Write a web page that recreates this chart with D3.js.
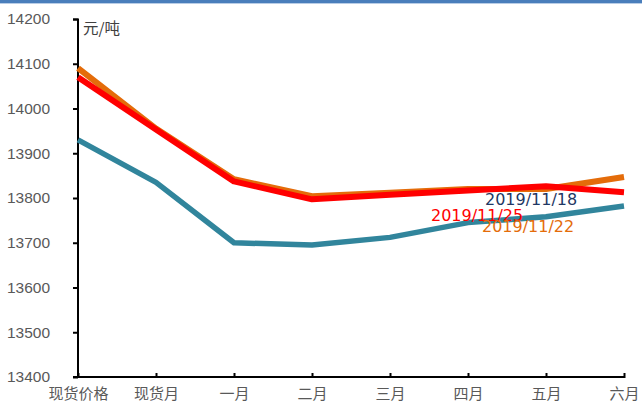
<!DOCTYPE html>
<html><head><meta charset="utf-8">
<script src="https://cdn.jsdelivr.net/npm/d3@7"></script>
<style>body{margin:0;background:#fff}svg{display:block}</style>
</head><body>
<svg id="c" width="642" height="403"></svg>
<script>
const categories = ["现货价格","现货月","一月","二月","三月","四月","五月","六月"];
const s1118 = [13930, 13835, 13700, 13695, 13712, 13745, 13758, 13782];
const s1122 = [14090, 13955, 13842, 13804, 13812, 13820, 13820, 13847];
const s1125 = [14070, 13953, 13837, 13797, 13807, 13817, 13826, 13813];
const yTicks = [13400,13500,13600,13700,13800,13900,14000,14100,14200];
const seriesNames = ["2019/11/18","2019/11/22","2019/11/25"];

const svg = d3.select("#c");
svg.append("rect").attr("x",0).attr("y",0).attr("width",642).attr("height",3).attr("fill","#4a7ebb");
svg.append("rect").attr("x",0).attr("y",3).attr("width",642).attr("height",1).attr("fill","#b9cde6");

const x = d3.scalePoint().domain(categories).range([78,624]);
const y = d3.scaleLinear().domain([13400,14200]).range([377,19]);
const font = "'Liberation Sans', Arial, sans-serif";

// y axis
const ya = svg.append("g").attr("transform","translate(78,0)")
  .call(d3.axisLeft(y).tickValues(yTicks).tickSize(5).tickPadding(22).tickFormat(d3.format("d")));
ya.select(".domain").attr("stroke","#000").attr("stroke-width",2).attr("d","M-5,19.5H0V377");
ya.selectAll(".tick line").attr("stroke","#000").attr("stroke-width",2);
ya.selectAll(".tick text").attr("fill","#595959").style("font-family",font).style("font-size","15.5px").attr("text-anchor","start").attr("x",-71);

// x axis
const xa = svg.append("g").attr("transform","translate(0,377)")
  .call(d3.axisBottom(x).tickSize(0).tickPadding(11));
xa.select(".domain").attr("stroke","#000").attr("stroke-width",2).attr("d","M73,0H625");
xa.selectAll(".tick").append("line").attr("y1",-4).attr("y2",1).attr("stroke","#000").attr("stroke-width",2);
xa.selectAll(".tick text").attr("fill","#595959").style("font-family","'Noto Sans CJK SC', sans-serif").style("font-size","15px");

// unit
svg.append("text").attr("x",83).attr("y",34).text("元/吨").attr("fill","#404040")
  .style("font-family","'Noto Sans CJK SC', sans-serif").style("font-size","15.5px");

const line = d3.line().x((d,i)=>x(categories[i])).y(d=>y(d));
const data = [
  {name:seriesNames[0], values:s1118, color:"#31859c", w:5.5},
  {name:seriesNames[1], values:s1122, color:"#e46c0a", w:6},
  {name:seriesNames[2], values:s1125, color:"#ff0000", w:6}
];
svg.selectAll("path.series").data(data).enter().append("path").attr("class","series")
  .attr("d",d=>line(d.values)).attr("fill","none").attr("stroke",d=>d.color)
  .attr("stroke-width",d=>d.w).attr("stroke-linejoin","round");

// data labels (overlapping in the original too)
const labels = [
  {t:seriesNames[0], x:485, y:205, c:"#1f3864"},
  {t:seriesNames[2], x:431, y:221, c:"#ff0000"},
  {t:seriesNames[1], x:482, y:232, c:"#e46c0a"}
];
svg.selectAll("text.lab").data(labels).enter().append("text").attr("class","lab")
  .attr("x",d=>d.x).attr("y",d=>d.y).attr("fill",d=>d.c).text(d=>d.t)
  .style("font-family","'DejaVu Sans', sans-serif").style("font-size","16px");
</script>
</body></html>
